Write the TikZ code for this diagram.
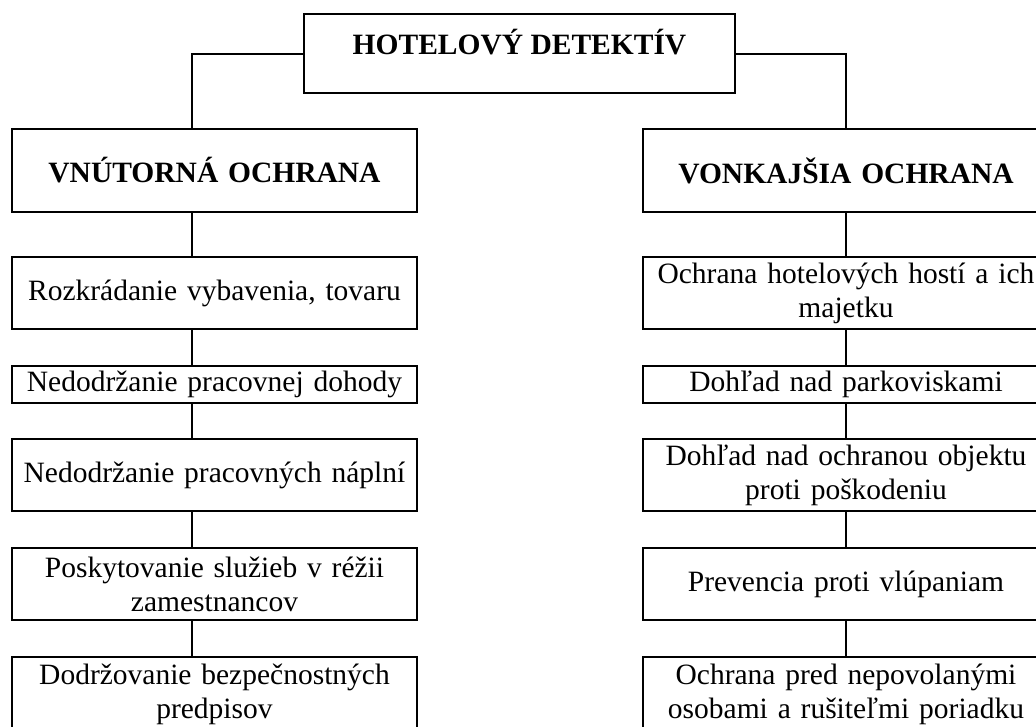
\documentclass[tikz,border=0pt]{standalone}
\usepackage{fontspec}
\setmainfont{Liberation Serif}
\begin{document}
\begin{tikzpicture}[x=1pt,y=1pt,
  line width=2.2pt,
  box/.style={draw, inner sep=0pt, align=center, font=\fontsize{29.5}{34}\selectfont},
  lbox/.style={box, minimum width=405pt, text width=400pt},
  rbox/.style={box, minimum width=406pt, text width=400pt},
  head/.style={font=\fontsize{29.5}{34}\selectfont\bfseries},
  conn/.style={line width=2.2pt}
]
\useasboundingbox (0,0) rectangle (1036,-726);
\clip (0,0) rectangle (1036,-726);
\coordinate (lx) at (192,0);
\coordinate (rx) at (846,0);
% top
\node[draw, inner xsep=0pt, inner ysep=0pt, minimum width=431pt, text height=40pt, text depth=39pt,
      font=\fontsize{29.5}{34}\selectfont\bfseries, anchor=north] (top) at (519.5,-13) {HOTELOVÝ DETEKTÍV};
% left column
\node[lbox, head, minimum height=83pt] (L0) at (214.5,-170.5) {VNÚTORNÁ OCHRANA};
\node[lbox, minimum height=72pt] (L1) at (214.5,-293) {Rozkrádanie vybavenia, tovaru};
\node[lbox, minimum height=37pt] (L2) at (214.5,-384.5) {Nedodržanie pracovnej dohody};
\node[lbox, minimum height=72pt] (L3) at (214.5,-475) {Nedodržanie pracovných náplní};
\node[lbox, minimum height=72pt] (L4) at (214.5,-584) {Poskytovanie služieb v réžii\\zamestnancov};
\node[lbox, minimum height=74pt] (L5) at (214.5,-694) {Dodržovanie bezpečnostných\\predpisov};
% right column
\node[rbox, head, minimum height=83pt] (R0) at (846,-170.5) {VONKAJŠIA OCHRANA};
\node[rbox, minimum height=72pt] (R1) at (846,-293) {Ochrana hotelových hostí a ich\\majetku};
\node[rbox, minimum height=37pt] (R2) at (846,-384.5) {Dohľad nad parkoviskami};
\node[rbox, minimum height=72pt] (R3) at (846,-475) {Dohľad nad ochranou objektu\\proti poškodeniu};
\node[rbox, minimum height=72pt] (R4) at (846,-584) {Prevencia proti vlúpaniam};
\node[rbox, minimum height=74pt] (R5) at (846,-694) {Ochrana pred nepovolanými\\osobami a rušiteľmi poriadku};
% connectors
\draw[conn] (top.west) -| (L0.north -| lx);
\draw[conn] (top.east) -| (R0.north -| rx);
\foreach \a/\b in {L0/L1,L1/L2,L2/L3,L3/L4,L4/L5}{
  \draw[conn] (\a.south -| lx) -- (\b.north -| lx);
}
\foreach \a/\b in {R0/R1,R1/R2,R2/R3,R3/R4,R4/R5}{
  \draw[conn] (\a.south -| rx) -- (\b.north -| rx);
}
\end{tikzpicture}
\end{document}
